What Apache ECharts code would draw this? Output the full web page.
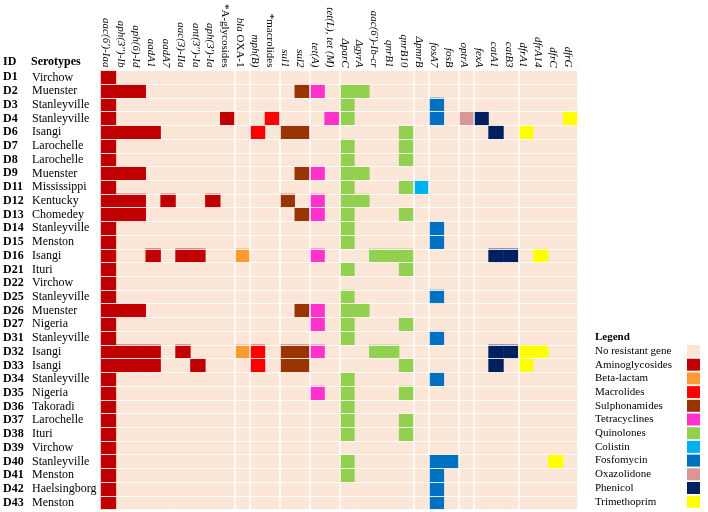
<!DOCTYPE html>
<html><head><meta charset="utf-8">
<script src="https://cdn.jsdelivr.net/npm/echarts@6/dist/echarts.min.js"></script>
<style>html,body{margin:0;padding:0;background:#fff}#c{width:708px;height:512px}</style>
</head><body><div id="c"></div>
<script>
const ids = ['D1','D2','D3','D4','D6','D7','D8','D9','D11','D12','D13','D14','D15','D16','D21','D22','D25','D26','D27','D31','D32','D33','D34','D35','D36','D37','D38','D39','D40','D41','D42','D43'];
const serotypes = ['Virchow','Muenster','Stanleyville','Stanleyville','Isangi','Larochelle','Larochelle','Muenster','Mississippi','Kentucky','Chomedey','Stanleyville','Menston','Isangi','Ituri','Virchow','Stanleyville','Muenster','Nigeria','Stanleyville','Isangi','Isangi','Stanleyville','Nigeria','Takoradi','Larochelle','Ituri','Virchow','Stanleyville','Menston','Haelsingborg','Menston'];
const genes = ["aac(6')-Iaa","aph(3'')-Ib","aph(6)-Id","aadA1","aadA7","aac(3)-IIa","ant(3'')-Ia","aph(3')-Ia","*A-glycosides","bla OXA-1","mph(B)","*macrolides","sul1","sul2","tet(A)","tet(L), tet (M)","\u0394parC","\u0394gyrA","aac(6')-Ib-cr","qnrB1","qnrB10","\u0394pmrB","fosA7","fosB","optrA","fexA","catA1","catB3","dfrA1","dfrA14","dfrC","dfrG"];
// class index of each gene column (index into classNames)
const geneClass = [1,1,1,1,1,1,1,1,1,2,3,3,4,4,5,5,6,6,6,6,6,7,8,8,9,10,10,10,11,11,11,11];
const classNames = ['No resistant gene','Aminoglycosides','Beta-lactam','Macrolides','Sulphonamides','Tetracyclines','Quinolones','Colistin','Fosfomycin','Oxazolidone','Phenicol','Trimethoprim'];
const classColors = ['#FBE6D8','#C00000','#FF9933','#FF0000','#993300','#FF33CC','#92D050','#00B0F0','#0070C0','#D99694','#002060','#FFFF00'];
// genes present per isolate (1-based gene column numbers)
const genesPresent = [
 [1],
 [1,2,3,14,15,17,18],
 [1,17,23],
 [1,9,12,16,17,23,25,26,32],
 [1,2,3,4,11,13,14,21,27,29],
 [1,17,21],
 [1,17,21],
 [1,2,3,14,15,17,18],
 [1,17,21,22],
 [1,2,3,5,8,13,15,17,18],
 [1,2,3,14,15,17,21],
 [1,17,23],
 [1,17,23],
 [1,4,6,7,10,15,19,20,21,27,28,30],
 [1,17,21],
 [1],
 [1,17,23],
 [1,2,3,14,15,17,18],
 [1,15,17,21],
 [1,17,23],
 [1,2,3,4,6,10,11,13,14,15,19,20,27,28,29,30],
 [1,2,3,4,7,11,13,14,21,27,29],
 [1,17,23],
 [1,15,17,21],
 [1,17],
 [1,17,21],
 [1,17,21],
 [1],
 [1,17,23,24,31],
 [1,17,23],
 [1,23],
 [1,23]
];
// column boundaries where a class group changes
const groupBreaks = [9,10,12,14,16,21,22,24,25,28];
const plainLabels = ['*A-glycosides','*macrolides'];

const FONT = "'Liberation Serif', 'Times New Roman', serif";
const seriesData = classNames.map(() => []);
ids.forEach((id, r) => {
  genes.forEach((g, c) => {
    const cls = genesPresent[r].includes(c + 1) ? geneClass[c] : 0;
    seriesData[cls].push([c, r, 1]);
  });
});

const chart = echarts.init(document.getElementById('c'), null, {renderer: 'canvas'});
chart.setOption({
  animation: false,
  backgroundColor: '#fff',
  title: [
    {text: 'ID', left: 3, top: 56, padding: 0, textStyle: {fontFamily: FONT, fontWeight: 'bold', fontSize: 12, color: '#000'}},
    {text: 'Serotypes', left: 31, top: 56, padding: 0, textStyle: {fontFamily: FONT, fontWeight: 'bold', fontSize: 12, color: '#000'}},
    {text: 'Legend', left: 595, top: 332, padding: 0, textStyle: {fontFamily: FONT, fontWeight: 'bold', fontSize: 11, color: '#000'}}
  ],
  grid: {left: 101, top: 70.5, right: 130, bottom: 2.5},
  xAxis: {
    type: 'category', position: 'top', data: genes, z: 5,
    axisLine: {show: false}, axisTick: {show: false},
    axisLabel: {
      rotate: 90, margin: 3, interval: 0, padding: [5, 0, 0, 0],
      fontFamily: FONT, fontSize: 11, color: '#000', fontStyle: 'italic',
      formatter: v => {
        if (plainLabels.includes(v)) return '{n|' + v + '}';
        if (v.startsWith('bla ')) return '{i|bla}{n| ' + v.slice(4) + '}';
        return '{i|' + v + '}';
      },
      rich: {
        i: {fontFamily: FONT, fontSize: 11, fontStyle: 'italic', color: '#000'},
        n: {fontFamily: FONT, fontSize: 11, fontStyle: 'normal', color: '#000'}
      }
    },
    splitLine: {show: true, interval: (i) => groupBreaks.includes(i), lineStyle: {color: '#fff', width: 1.5}}
  },
  yAxis: {
    type: 'category', data: ids, inverse: true, z: 5,
    axisLine: {show: false}, axisTick: {show: false},
    axisLabel: {
      align: 'left', margin: 98, interval: 0,
      formatter: (v, i) => '{id|' + v + '}{s|' + serotypes[i] + '}',
      rich: {
        id: {fontFamily: FONT, fontSize: 12, fontWeight: 'bold', width: 29, color: '#000'},
        s: {fontFamily: FONT, fontSize: 12, color: '#000'}
      }
    },
    splitLine: {show: true, interval: 0, lineStyle: {color: '#fff', width: 1, opacity: 0.85}}
  },
  legend: {
    orient: 'vertical', left: 595, top: 345, height: 170, padding: 0,
    align: 'right', icon: 'rect',
    itemWidth: 13, itemHeight: 12, itemGap: 1.7, selectedMode: false,
    data: classNames,
    formatter: n => '{t|' + n + '}',
    textStyle: {
      rich: {t: {fontFamily: FONT, fontSize: 11, lineHeight: 12, height: 12, color: '#000', width: 87, align: 'left'}}
    }
  },
  series: classNames.map((name, k) => ({
    type: 'heatmap', name: name, data: seriesData[k],
    itemStyle: {color: classColors[k]},
    emphasis: {disabled: true}
  }))
});
</script></body></html>
